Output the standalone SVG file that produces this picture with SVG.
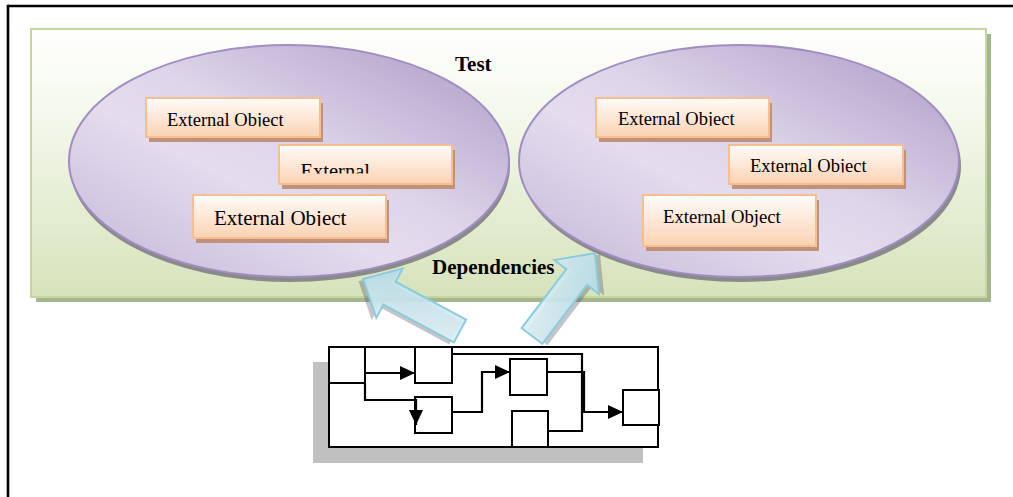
<svg xmlns="http://www.w3.org/2000/svg" width="1013" height="497" viewBox="0 0 1013 497">
<style>
.ell{stroke:#a18dc2;stroke-width:2;fill:url(#gEll)}
.ellsh{fill:#8a8a8a}
.box{fill:url(#gBox);stroke:#f9be8f;stroke-width:2}
.boxsh{fill:#bf9279}
.t{font-family:"Liberation Serif","Times New Roman",serif;fill:#000}
.b{font-weight:bold}
.sb{fill:#fff;stroke:#000;stroke-width:2}
.ln{fill:none;stroke:#000;stroke-width:2.2}
.blk{fill:url(#gArr);stroke:#8ccbdc;stroke-width:2;fill-opacity:0.9}
.blksh{fill:#556;opacity:0.35}
</style>
<defs>
<linearGradient id="gGreen" x1="0" y1="0" x2="0" y2="1">
<stop offset="0" stop-color="#ffffff"/>
<stop offset="0.35" stop-color="#f3f7ea"/>
<stop offset="1" stop-color="#d6e3bb"/>
</linearGradient>
<linearGradient id="gEll" x1="0" y1="1" x2="1" y2="0">
<stop offset="0" stop-color="#c3b5d7"/>
<stop offset="0.4" stop-color="#e3ddee"/>
<stop offset="0.55" stop-color="#ddd5e9"/>
<stop offset="1" stop-color="#ac99c5"/>
</linearGradient>
<linearGradient id="gBox" x1="0" y1="0" x2="0" y2="1">
<stop offset="0" stop-color="#fffcfa"/>
<stop offset="1" stop-color="#fbd2b2"/>
</linearGradient>
<linearGradient id="gArr" x1="0" y1="0" x2="1" y2="1">
<stop offset="0" stop-color="#e6f4f8"/>
<stop offset="1" stop-color="#b3dce8"/>
</linearGradient>
<marker id="ah" markerUnits="userSpaceOnUse" markerWidth="16" markerHeight="16" viewBox="0 0 16 16" refX="15" refY="8" orient="auto">
<path d="M0,1 L15,8 L0,15 Z" fill="#000"/>
</marker>
<clipPath id="cL1"><rect x="140" y="95" width="190" height="31.5"/></clipPath>
<clipPath id="cL2"><rect x="275" y="140" width="190" height="33.5"/></clipPath>
<clipPath id="cL3"><rect x="190" y="190" width="200" height="36"/></clipPath>
<clipPath id="cR1"><rect x="590" y="95" width="190" height="31"/></clipPath>
<clipPath id="cR2"><rect x="725" y="140" width="190" height="32.5"/></clipPath>
</defs>

<g id="frame">
<line x1="8" y1="6" x2="1013" y2="6" stroke="#000" stroke-width="2.6"/>
<line x1="8" y1="4.7" x2="8" y2="497" stroke="#000" stroke-width="2.6"/>
</g>

<g id="test-area">
<rect x="36" y="34" width="955" height="268" fill="#a6b48f"/>
<rect x="31" y="29" width="955" height="268" fill="url(#gGreen)" stroke="#c4d79c" stroke-width="2"/>
</g>

<g id="ellipse-left">
<ellipse cx="290" cy="166" rx="220" ry="116" class="ellsh"/>
<ellipse cx="289" cy="161" rx="220" ry="116" class="ell"/>
</g>
<g id="ellipse-right">
<ellipse cx="741" cy="166" rx="220" ry="116" class="ellsh"/>
<ellipse cx="739" cy="161" rx="220" ry="116" class="ell"/>
</g>

<g id="label-test"><text x="455" y="70.5" class="t b" font-size="21">Test</text></g>

<g id="obj-l1">
<rect x="149" y="103" width="174" height="39" class="boxsh"/>
<rect x="146" y="98" width="174" height="39" class="box"/>
<text x="167" y="125.7" class="t" font-size="18.5" clip-path="url(#cL1)">External Object</text>
</g>
<g id="obj-l2">
<rect x="282" y="150" width="173" height="39" class="boxsh"/>
<rect x="279" y="145" width="173" height="39" class="box"/>
<text x="300.5" y="177.5" class="t" font-size="20.5" clip-path="url(#cL2)">External</text>
</g>
<g id="obj-l3">
<rect x="196" y="200" width="193" height="43" class="boxsh"/>
<rect x="193" y="195" width="193" height="43" class="box"/>
<text x="214" y="225" class="t" font-size="21" clip-path="url(#cL3)">External Object</text>
</g>

<g id="obj-r1">
<rect x="599" y="103" width="173" height="39" class="boxsh"/>
<rect x="596" y="98" width="173" height="39" class="box"/>
<text x="618" y="125" class="t" font-size="18.5" clip-path="url(#cR1)">External Object</text>
</g>
<g id="obj-r2">
<rect x="732" y="150" width="174" height="39" class="boxsh"/>
<rect x="729" y="145" width="174" height="39" class="box"/>
<text x="750" y="171.7" class="t" font-size="18.5" clip-path="url(#cR2)">External Object</text>
</g>
<g id="obj-r3">
<rect x="646" y="200" width="173" height="51" class="boxsh"/>
<rect x="643" y="195" width="173" height="51" class="box"/>
<text x="663" y="222.7" class="t" font-size="18.7">External Object</text>
</g>

<g id="label-dependencies"><text x="432" y="273.5" class="t b" font-size="21">Dependencies</text></g>

<g id="program">
<rect x="313" y="362" width="330" height="101" fill="#c0c0c0"/>
<rect x="329" y="347" width="329" height="100" class="sb"/>
<rect x="329" y="347" width="36" height="36" class="sb"/>
<rect x="415" y="347" width="37" height="36" class="sb"/>
<rect x="510" y="359" width="37" height="36" class="sb"/>
<rect x="415" y="397" width="37" height="36" class="sb"/>
<rect x="512" y="411" width="36" height="36" class="sb"/>
<rect x="623" y="390" width="36" height="35" class="sb"/>
</g>

<g id="connectors">
<path class="ln" d="M452,354 H582 V431 H548"/>
<path class="ln" d="M365,373 H415" marker-end="url(#ah)"/>
<path class="ln" d="M365,383 V400 H416 V425" marker-end="url(#ah)"/>
<path class="ln" d="M452,412 H482 V372 H510" marker-end="url(#ah)"/>
<path class="ln" d="M547,372 H584 V412 H623" marker-end="url(#ah)"/>
<g id="dep-arrow-left" transform="translate(460,331) rotate(208.2)">
<path class="blksh" transform="translate(3,-4)" d="M0,-13 L80,-13 L80,-28 L110,0 L80,28 L80,13 L0,13 Z"/>
<path class="blk" d="M0,-13 L80,-13 L80,-28 L110,0 L80,28 L80,13 L0,13 Z"/>
</g>
<g id="dep-arrow-right" transform="translate(532,336) rotate(-52.8)">
<path class="blksh" transform="translate(2,5)" d="M0,-13 L74,-13 L74,-28 L104,0 L74,28 L74,13 L0,13 Z"/>
<path class="blk" d="M0,-13 L74,-13 L74,-28 L104,0 L74,28 L74,13 L0,13 Z"/>
</g>
</g>
</svg>
